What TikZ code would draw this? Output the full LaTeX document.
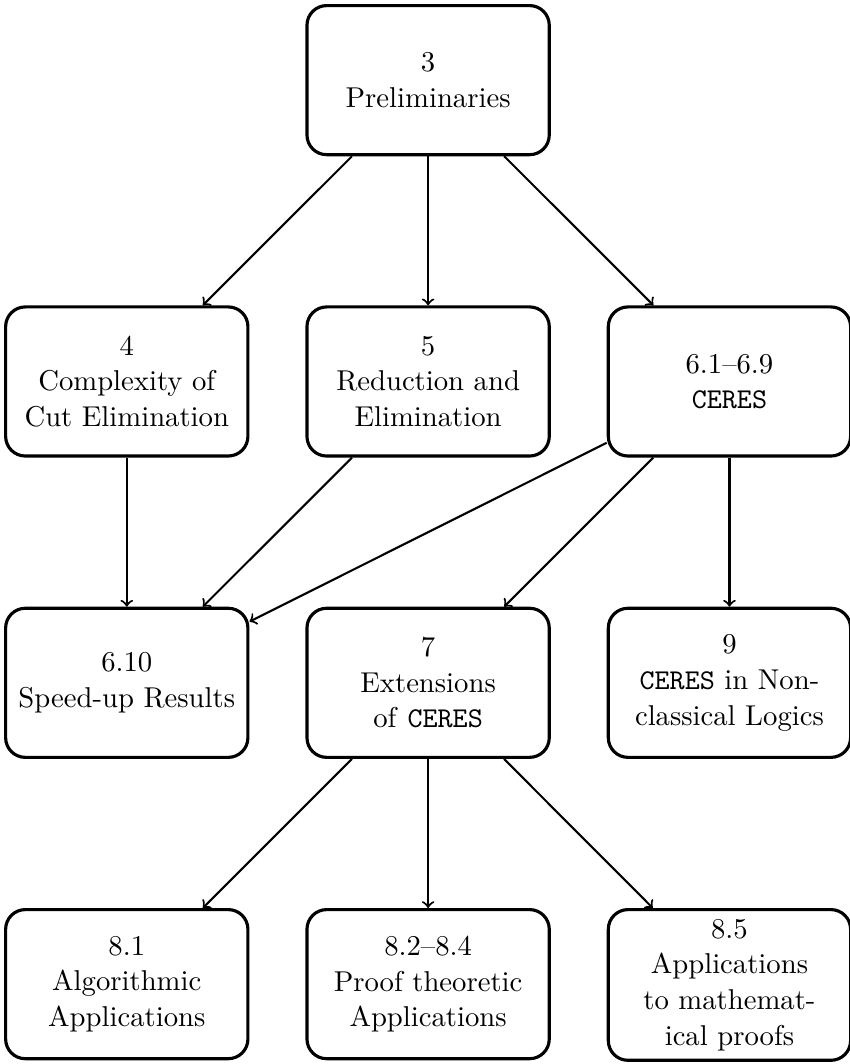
\documentclass[11pt,tikz,border=0pt]{standalone}
\usepackage{xcolor}
\usepackage{tikz}
\usetikzlibrary{shapes,arrows,positioning}

\begin{document}
\begin{tikzpicture}[
    auto,
    node distance=2cm and 0.75cm,
    thick,
    chapter/.style={
        rectangle,
        draw,
        very thick,
        rounded corners=7.5pt,
        align=center,
        minimum height=2cm,
        minimum width=3.25cm
    },
    arrow/.style={->}
]
    \useasboundingbox (-163.4pt,-260.5pt) rectangle (161pt,145.6pt);

    \node[chapter] (reduction) at (0,0) {5\\Reduction and\\Elimination};
    \node[chapter, above=of reduction] (prelim) {3\\Preliminaries};
    \node[chapter, left=of reduction] (complexity) {4\\Complexity of\\Cut Elimination};
    \node[chapter, right=of reduction] (ceres) {6.1--6.9\\\texttt{CERES}};

    \node[chapter, below=of complexity] (speedup) {6.10\\Speed-up Results};
    \node[chapter, below=of reduction] (extensions) {7\\Extensions\\of \texttt{CERES}};
    \node[chapter, below=of ceres] (nonclassical) {9\\\texttt{CERES} in Non-\\classical Logics};

    \node[chapter, below=of speedup] (algorithmic) {8.1\\Algorithmic\\Applications};
    \node[chapter, below=of extensions] (prooftheo) {8.2--8.4\\Proof theoretic\\Applications};
    \node[chapter, below=of nonclassical] (mathproofs) {8.5\\Applications\\to mathemat-\\ical proofs};

    \draw[arrow] (prelim) -- (complexity);
    \draw[arrow] (prelim) -- (reduction);
    \draw[arrow] (prelim) -- (ceres);
    \draw[arrow] (complexity) -- (speedup);
    \draw[arrow] (reduction) -- (speedup);
    \draw[arrow] (ceres) -- (speedup);
    \draw[arrow] (ceres) -- (extensions);
    \draw[arrow] (ceres) -- (nonclassical);
    \draw[arrow] (extensions) -- (algorithmic);
    \draw[arrow] (extensions) -- (prooftheo);
    \draw[arrow] (extensions) -- (mathproofs);
\end{tikzpicture}
\end{document}
